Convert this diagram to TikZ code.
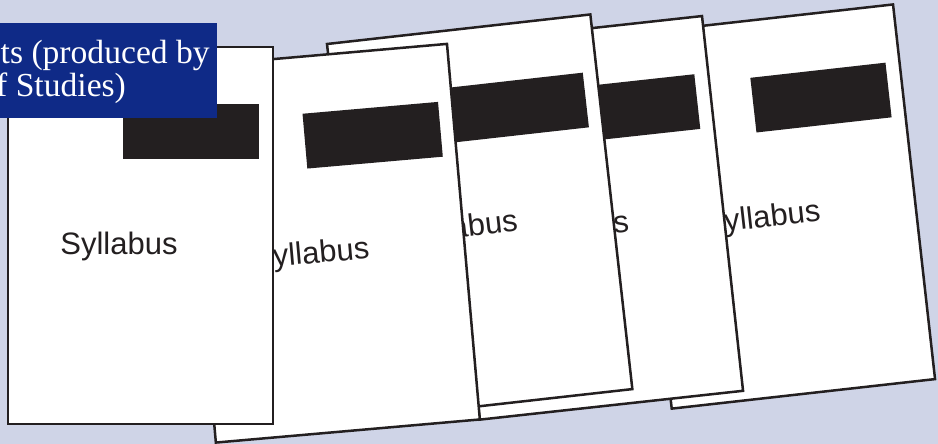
\documentclass[tikz,border=0pt]{standalone}
\usepackage{fontspec}
\setmainfont{Liberation Serif}
\newfontfamily\sheetfont{Liberation Sans}
\usepackage{xcolor}
\usepackage{tikz}
\definecolor{backcol}{RGB}{207,212,231}
\definecolor{boxblue}{RGB}{15,42,135}
\definecolor{inkblack}{RGB}{35,31,32}

\begin{document}
\begin{tikzpicture}[x=1pt,y=-1pt,
    sheet/.style={draw=inkblack,fill=white,line width=2.5pt},
    bar/.style={fill=inkblack},
    sheettext/.style={anchor=base,inner sep=0pt,transform shape,text=inkblack,font=\sheetfont\fontsize{31}{36}\selectfont},
    boxtext/.style={anchor=base west,inner sep=0pt,text=white,font=\fontsize{33.6}{36}\selectfont}]
    \useasboundingbox (0,0) rectangle (938,444);
    \fill[backcol] (0,0) rectangle (938,444);
    \clip (0,0) rectangle (938,444);

    \begin{scope}[shift={(629.7,34)},rotate=6.4]
        \draw[sheet] (0,0) rectangle (265,377);
        \fill[bar] (115,57) rectangle (251,112);
        \node[sheettext] (syllE) at (111,207) {Syllabus};
    \end{scope}
    \begin{scope}[shift={(438.6,44.9)},rotate=6.25]
        \draw[sheet] (0,0) rectangle (265,377);
        \fill[bar] (115,57) rectangle (251,112);
        \node[sheettext] (syllD) at (111,207) {Syllabus};
    \end{scope}
    \begin{scope}[shift={(327,44)},rotate=6.4]
        \draw[sheet] (0,0) rectangle (265,377);
        \fill[bar] (115,57) rectangle (251,112);
        \node[sheettext] (syllC) at (111,207) {Syllabus};
    \end{scope}
    \begin{scope}[shift={(183,67)},rotate=5]
        \draw[sheet] (0,0) rectangle (265,377);
        \fill[bar] (115,57) rectangle (251,112);
        \node[sheettext] (syllB) at (111,207) {Syllabus};
    \end{scope}
    \begin{scope}[shift={(8,47)}]
        \draw[sheet] (0,0) rectangle (265,377);
        \fill[bar] (115,57) rectangle (251,112);
        \node[sheettext] (syllA) at (111,207) {Syllabus};
    \end{scope}

    \fill[boxblue] (-10,23) rectangle (217,118);
    \node[boxtext] (lineA) at (0.5,63.5) {ts (produced by};
    \node[boxtext] (lineB) at (-4,97) {f Studies)};
\end{tikzpicture}
\end{document}
